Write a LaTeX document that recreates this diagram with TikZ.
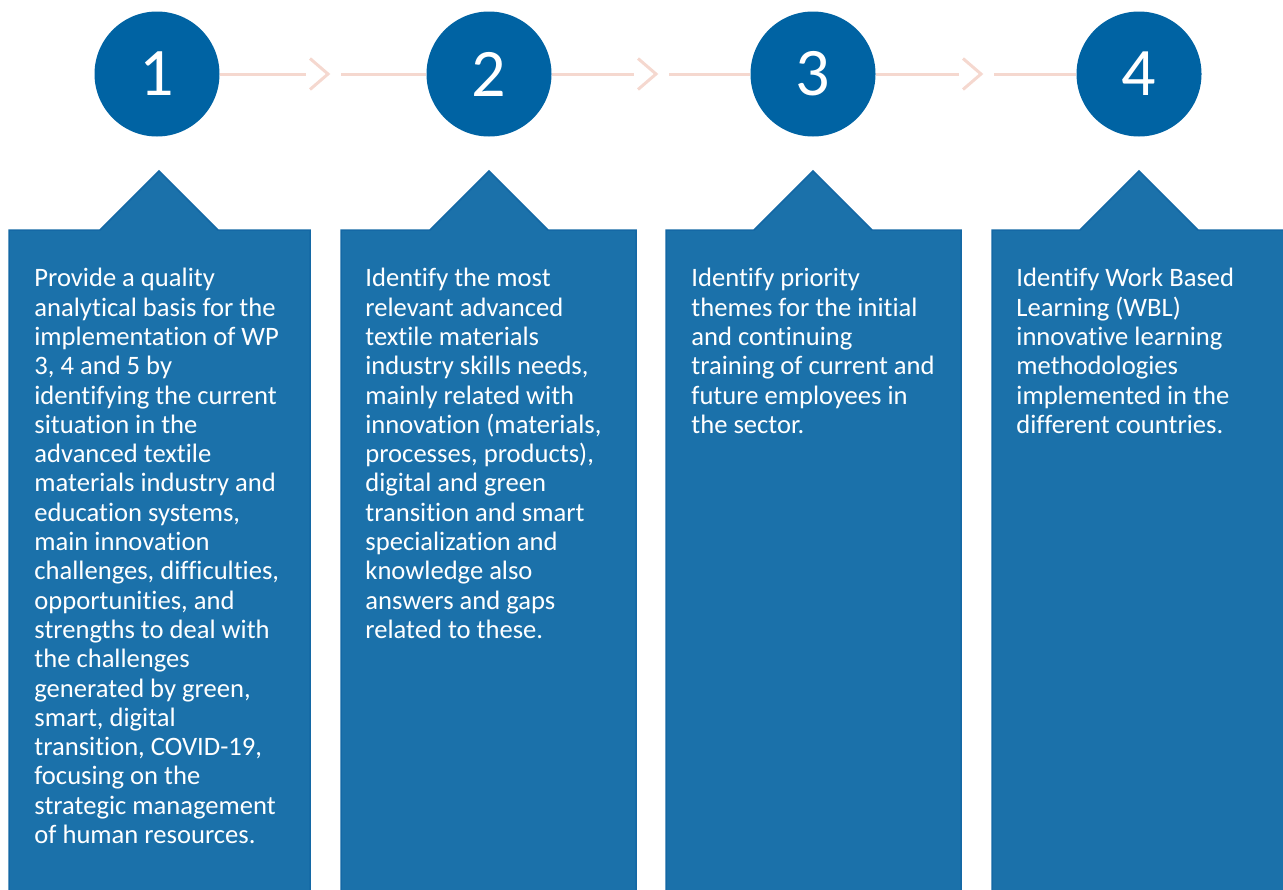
\documentclass[tikz,border=0pt]{standalone}
\usepackage{fontspec}
\setmainfont[Ligatures=NoCommon]{Carlito}
\usetikzlibrary{calc}
\definecolor{stepblue}{RGB}{0,99,163}
\definecolor{boxblue}{RGB}{27,113,170}
\definecolor{boxedge}{RGB}{20,104,165}
\definecolor{linkpink}{RGB}{245,216,207}
\tikzset{
  stepcircle/.style={circle, fill=stepblue, minimum size=62.5pt, inner sep=0pt,
    text=white, font=\fontsize{34}{40}\selectfont},
  tabbox/.style={fill=boxblue, draw=boxedge, line width=0.75pt},
  boxtext/.style={anchor=north west, inner sep=0pt, align=left, text=white,
    font=\fontsize{13.3}{14.65}\selectfont},
  link/.style={draw=linkpink, line width=1.5pt}
}
\begin{document}
\begin{tikzpicture}[x=0.5pt, y=-0.5pt]
				\useasboundingbox (0,0) rectangle (1283,889);
				\def\tabtop{230}
				\def\tabw{59}
				\def\texttop{268}
				\foreach \l/\r/\a in {9/310/159, 341/636/489, 666/961/813, 992/1292/1139}{
					\draw[tabbox] (\l,\tabtop) -- (\a-\tabw,\tabtop) -- (\a,171) -- (\a+\tabw,\tabtop)
						-- (\r,\tabtop) -- (\r,900) -- (\l,900) -- cycle;
				}
				\node[stepcircle] (c1) at (157,74) {1};
				\node[stepcircle] (c2) at (489,74) {2};
				\node[stepcircle] (c3) at (813,74) {3};
				\node[stepcircle] (c4) at (1139,74) {4};
				\foreach \p/\q in {c1/c2, c2/c3, c3/c4}{
					\coordinate (m\p) at ($(\p.east)!0.5!(\q.west)$);
					\draw[link] (\p.east) -- ($(m\p)+(-17,0)$);
					\draw[link] ($(m\p)+(-13,-15.5)$) -- ($(m\p)+(5,0)$) -- ($(m\p)+(-13,15.5)$);
					\draw[link] ($(m\p)+(18,0)$) -- (\q.west);
				}
				\node[boxtext] (t1) at (34,\texttop) {Provide a quality\\analytical basis for the\\implementation of WP\\3, 4 and 5 by\\identifying the current\\situation in the\\advanced textile\\materials industry and\\education systems,\\main innovation\\challenges, difficulties,\\opportunities, and\\strengths to deal with\\the challenges\\generated by green,\\smart, digital\\transition, COVID-19,\\focusing on the\\strategic management\\of human resources.};
				\node[boxtext] (t2) at (365,\texttop) {Identify the most\\relevant advanced\\textile materials\\industry skills needs,\\mainly related with\\innovation (materials,\\processes, products),\\digital and green\\transition and smart\\specialization and\\knowledge also\\answers and gaps\\related to these.};
				\node[boxtext] (t3) at (691,\texttop) {Identify priority\\themes for the initial\\and continuing\\training of current and\\future employees in\\the sector.};
				\node[boxtext] (t4) at (1016,\texttop) {Identify Work Based\\Learning (WBL)\\innovative learning\\methodologies\\implemented in the\\different countries.};
			\end{tikzpicture}
\end{document}
